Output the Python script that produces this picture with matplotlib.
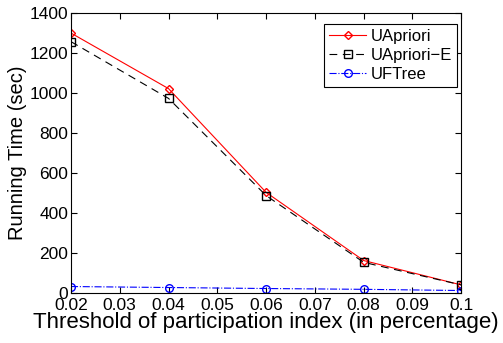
import matplotlib
matplotlib.use('Agg')
import matplotlib.pyplot as plt

plt.rcParams['font.family'] = ['Liberation Sans', 'DejaVu Sans']

thresholds = [0.02, 0.04, 0.06, 0.08, 0.1]
uapriori = [1300, 1022, 503, 162, 40]
uapriori_e = [1257, 973, 487, 153, 40]
uftree = [32, 27, 22, 18, 12]

fig = plt.figure(figsize=(5.03, 3.43), dpi=100)
ax = fig.add_axes([0.141, 0.146, 0.776, 0.816])

ax.plot(thresholds, uapriori, color='red', linestyle='-', linewidth=0.8,
        marker='D', markersize=4.5, markerfacecolor='none', markeredgecolor='red',
        label='UApriori')
ax.plot(thresholds, uapriori_e, color='black', linestyle=(0, (7, 5)), linewidth=0.8,
        marker='s', markersize=5.5, markerfacecolor='none', markeredgecolor='black',
        label='UApriori\u2212E')
ax.plot(thresholds, uftree, color='blue', linestyle='-.', linewidth=0.8,
        marker='o', markersize=5.5, markerfacecolor='none', markeredgecolor='blue',
        label='UFTree')

ax.set_xlim(0.02, 0.1)
ax.set_ylim(0, 1400)
ax.set_xticks([0.02, 0.03, 0.04, 0.05, 0.06, 0.07, 0.08, 0.09, 0.1])
ax.set_xticklabels(['0.02', '0.03', '0.04', '0.05', '0.06', '0.07', '0.08', '0.09', '0.1'])
ax.set_yticks(range(0, 1401, 200))
ax.tick_params(direction='in', top=True, right=True, labelsize=12.5, length=4, pad=2)
ax.tick_params(axis='x', pad=4)
for s in ax.spines.values():
    s.set_linewidth(0.8)

ax.set_xlabel('Threshold of participation index (in percentage)', fontsize=16, labelpad=-1)
ax.set_ylabel('Running Time (sec)', fontsize=14.5, labelpad=2)

leg = ax.legend(loc='upper right', fontsize=12, fancybox=False, edgecolor='black',
                framealpha=1, handlelength=2.2, handletextpad=0.3, borderpad=0.3,
                labelspacing=0.25, borderaxespad=0, bbox_to_anchor=(0.99, 0.961))
leg.get_frame().set_linewidth(0.8)

fig.savefig('out.png', dpi=100)
